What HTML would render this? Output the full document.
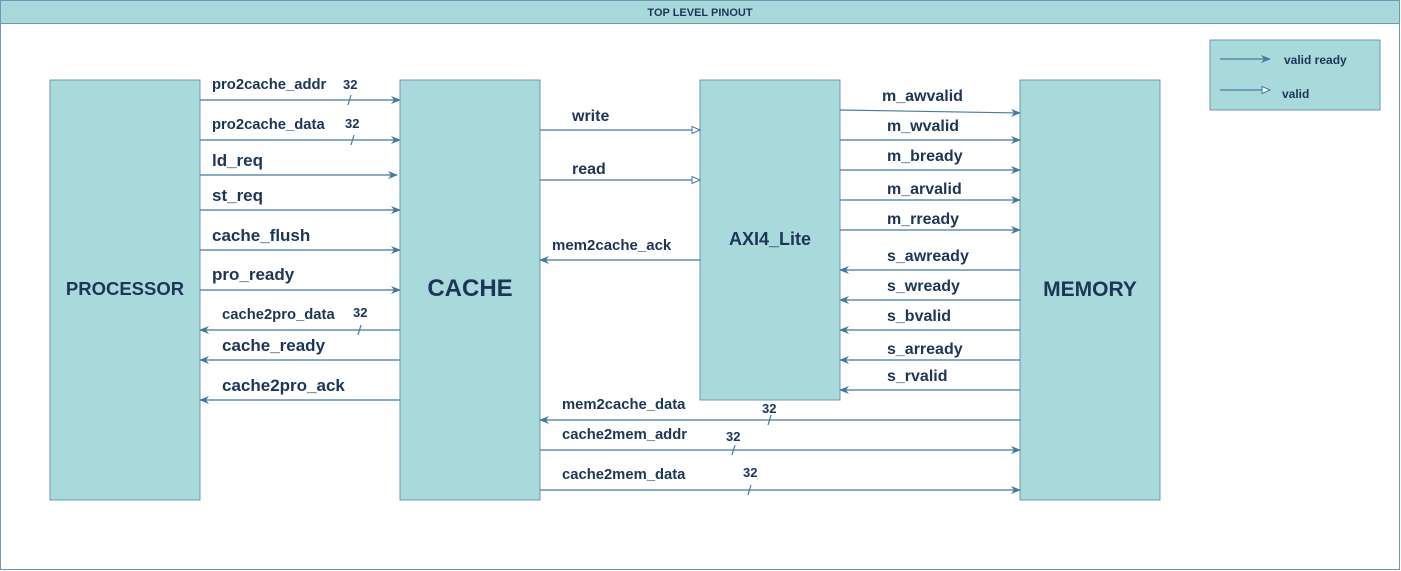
<!DOCTYPE html>
<html><head><meta charset="utf-8"><style>
html,body{margin:0;padding:0;background:#fff;}
svg{display:block;font-family:"Liberation Sans",Arial,sans-serif;font-weight:bold;fill:#1d3557;}
</style></head><body>
<svg width="1401" height="571" viewBox="0 0 1401 571" xmlns="http://www.w3.org/2000/svg">
<defs>
<marker id="a" markerWidth="10" markerHeight="8" refX="9" refY="4" orient="auto" markerUnits="userSpaceOnUse">
<path d="M0,0 L10,4 L0,8 L3,4 Z" fill="#457b9d"/></marker>
<marker id="o" markerWidth="10" markerHeight="8" refX="9" refY="4" orient="auto" markerUnits="userSpaceOnUse">
<path d="M1,0.5 L9,4 L1,7.5 Z" fill="#fff" stroke="#457b9d" stroke-width="1"/></marker>
</defs>
<rect x="0.5" y="0.5" width="1399" height="569" fill="#fff" stroke="#6d97b5"/>
<rect x="0.5" y="0.5" width="1399" height="23" fill="#a8dadc" stroke="#6d97b5"/>
<text x="700" y="16" font-size="11" text-anchor="middle">TOP LEVEL PINOUT</text>

<g fill="#a8dadc" stroke="#6d97b5">
<rect x="50" y="80" width="150" height="420"/>
<rect x="400" y="80" width="140" height="420"/>
<rect x="700" y="80" width="140" height="320"/>
<rect x="1020" y="80" width="140" height="420"/>
<rect x="1210" y="40" width="170" height="70"/>
</g>
<text x="125" y="295" font-size="18.5" text-anchor="middle">PROCESSOR</text>
<text x="470" y="296" font-size="24" text-anchor="middle">CACHE</text>
<text x="770" y="245" font-size="18" text-anchor="middle">AXI4_Lite</text>
<text x="1090" y="296" font-size="21" text-anchor="middle">MEMORY</text>

<g stroke="#457b9d" stroke-width="1.2" fill="none">
<line x1="1220" y1="59" x2="1270" y2="59" marker-end="url(#a)"/>
<line x1="1220" y1="90" x2="1270" y2="90" marker-end="url(#o)"/>
<line x1="200" y1="100" x2="400" y2="100" marker-end="url(#a)"/>
<line x1="200" y1="140" x2="400" y2="140" marker-end="url(#a)"/>
<line x1="200" y1="175" x2="397" y2="175" marker-end="url(#a)"/>
<line x1="200" y1="210" x2="400" y2="210" marker-end="url(#a)"/>
<line x1="200" y1="250" x2="400" y2="250" marker-end="url(#a)"/>
<line x1="200" y1="290" x2="400" y2="290" marker-end="url(#a)"/>
<line x1="400" y1="330" x2="200" y2="330" marker-end="url(#a)"/>
<line x1="400" y1="360" x2="200" y2="360" marker-end="url(#a)"/>
<line x1="400" y1="400" x2="200" y2="400" marker-end="url(#a)"/>
<line x1="540" y1="130" x2="700" y2="130" marker-end="url(#o)"/>
<line x1="540" y1="180" x2="700" y2="180" marker-end="url(#o)"/>
<line x1="700" y1="260" x2="540" y2="260" marker-end="url(#a)"/>
<line x1="840" y1="110" x2="1020" y2="113" marker-end="url(#a)"/>
<line x1="840" y1="140" x2="1020" y2="140" marker-end="url(#a)"/>
<line x1="840" y1="170" x2="1020" y2="170" marker-end="url(#a)"/>
<line x1="840" y1="200" x2="1020" y2="200" marker-end="url(#a)"/>
<line x1="840" y1="230" x2="1020" y2="230" marker-end="url(#a)"/>
<line x1="1020" y1="270" x2="840" y2="270" marker-end="url(#a)"/>
<line x1="1020" y1="300" x2="840" y2="300" marker-end="url(#a)"/>
<line x1="1020" y1="330" x2="840" y2="330" marker-end="url(#a)"/>
<line x1="1020" y1="360" x2="840" y2="360" marker-end="url(#a)"/>
<line x1="1020" y1="390" x2="840" y2="390" marker-end="url(#a)"/>
<line x1="1020" y1="420" x2="540" y2="420" marker-end="url(#a)"/>
<line x1="540" y1="450" x2="1020" y2="450" marker-end="url(#a)"/>
<line x1="540" y1="490" x2="1020" y2="490" marker-end="url(#a)"/>
<line x1="348" y1="105" x2="351" y2="95"/>
<line x1="351" y1="145" x2="354" y2="135"/>
<line x1="358" y1="335" x2="361" y2="325"/>
<line x1="768" y1="425" x2="771" y2="415"/>
<line x1="732" y1="455" x2="735" y2="445"/>
<line x1="748" y1="495" x2="751" y2="485"/>
</g>

<text x="1284" y="64" font-size="12">valid ready</text>
<text x="1282" y="98" font-size="12">valid</text>

<g font-size="14.8">
<text x="212" y="89">pro2cache_addr</text>
<text x="343" y="89" font-size="13">32</text>
<text x="212" y="129">pro2cache_data</text>
<text x="345" y="128" font-size="13">32</text>
<text x="222" y="319">cache2pro_data</text>
<text x="353" y="317" font-size="13">32</text>
<text x="562" y="409">mem2cache_data</text>
<text x="762" y="413" font-size="13">32</text>
<text x="562" y="439">cache2mem_addr</text>
<text x="726" y="441" font-size="13">32</text>
<text x="562" y="479">cache2mem_data</text>
<text x="743" y="477" font-size="13">32</text>
</g>
<g font-size="17">
<text x="212" y="166">ld_req</text>
<text x="212" y="201">st_req</text>
<text x="212" y="241">cache_flush</text>
<text x="212" y="280">pro_ready</text>
<text x="222" y="351">cache_ready</text>
<text x="222" y="391">cache2pro_ack</text>
<text x="572" y="121" font-size="16">write</text>
<text x="572" y="174" font-size="16">read</text>
<text x="552" y="250" font-size="15">mem2cache_ack</text>
<text x="882" y="101" font-size="16">m_awvalid</text>
<text x="887" y="131" font-size="16">m_wvalid</text>
<text x="887" y="161" font-size="16">m_bready</text>
<text x="887" y="194" font-size="16">m_arvalid</text>
<text x="887" y="224" font-size="16">m_rready</text>
<text x="887" y="261" font-size="16">s_awready</text>
<text x="887" y="291" font-size="16">s_wready</text>
<text x="887" y="321" font-size="16">s_bvalid</text>
<text x="887" y="354" font-size="16">s_arready</text>
<text x="887" y="381" font-size="16">s_rvalid</text>
</g>
</svg>
</body></html>
